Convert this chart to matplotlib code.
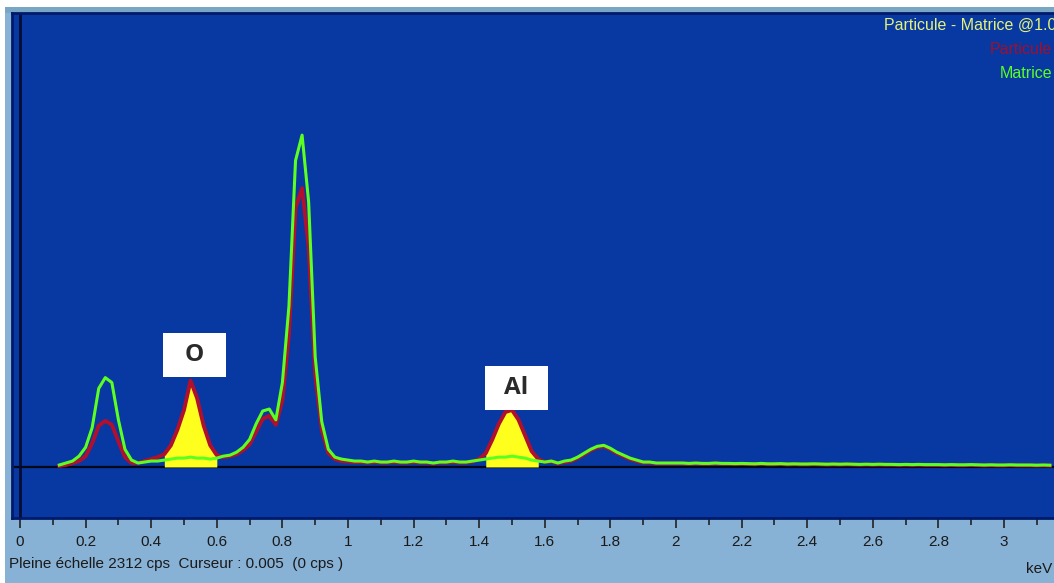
import numpy as np
import matplotlib
matplotlib.use("Agg")
import matplotlib.pyplot as plt
from matplotlib.patches import Rectangle

# ---------------- data ----------------
e_start = 0.12   # keV, first channel
e_step = 0.02    # keV per channel

matrice = [
    10, 20, 30, 55, 100, 200, 400, 455, 430, 240, 90, 35, 20, 25, 30, 30, 35, 40, 45, 45,
    50, 45, 45, 40, 45, 55, 60, 75, 100, 140, 220, 285, 295, 240, 430, 820, 1560, 1690, 1350, 560,
    230, 90, 50, 40,
    35, 30, 30, 25, 30, 25, 25, 30, 25, 25, 30, 25, 25, 20, 25, 25, 30, 25, 25, 30,
    35, 40, 45, 50, 50, 55, 50, 45, 35, 30, 25, 30, 20, 30, 35, 50, 70, 90, 105, 110,
    95, 75, 60, 45, 35, 25, 25, 20, 20, 20,
    20, 20, 18, 20, 18, 18, 20, 18, 18, 17, 18, 17, 16, 18, 16, 16, 17, 15, 16, 15,
    15, 16, 15, 14, 15, 14, 15, 14, 13, 14, 13, 14, 13, 13, 12, 13, 12, 13, 12, 12,
    12, 11, 12, 11, 11, 12, 11, 10, 11, 10, 10, 11, 10, 10, 10, 9, 10, 9,
]

particule = [
    5, 10, 20, 30, 55, 120, 210, 235, 215, 130, 50, 20, 20, 30, 40, 50, 65, 110, 190, 290,
    440, 350, 210, 110, 60, 50, 55, 65, 85, 115, 180, 245, 260, 215, 340, 680, 1320, 1420, 1120, 470,
    190, 70, 40, 30,
    28, 25, 25, 22, 25, 22, 22, 25, 22, 22, 25, 22, 22, 18, 22, 22, 25, 22, 22, 28,
    40, 70, 140, 220, 280, 290, 240, 160, 80, 40, 25, 28, 18, 25, 30, 45, 65, 85, 100, 105,
    90, 70, 55, 40, 30, 22, 22, 18, 18, 18,
    18, 18, 16, 18, 16, 16, 18, 16, 16, 15, 16, 15, 14, 16, 14, 14, 15, 13, 14, 13,
    13, 14, 13, 12, 13, 12, 13, 12, 11, 12, 11, 12, 11, 11, 10, 11, 10, 11, 10, 10,
    10, 9, 10, 9, 9, 10, 9, 8, 9, 8, 8, 9, 8, 8, 8, 7, 8, 7,
]

roi_windows = [(0.44, 0.60), (1.42, 1.58)]       # keV, yellow (Particule - Matrice) regions
peak_labels = ["O", "Al"]
peak_label_energy = [0.532, 1.514]
peak_label_cps = [570, 400]

tick_values = [0, 0.2, 0.4, 0.6, 0.8, 1, 1.2, 1.4, 1.6, 1.8, 2, 2.2, 2.4, 2.6, 2.8, 3]
tick_labels = ["0", "0.2", "0.4", "0.6", "0.8", "1", "1.2", "1.4", "1.6", "1.8",
               "2", "2.2", "2.4", "2.6", "2.8", "3"]
full_scale = 2312

# ---------------- figure ----------------
W, H = 1054, 583
PX_PER_KEV = 328.0
X0_PX = 20.0
fig = plt.figure(figsize=(W / 100, H / 100), dpi=100)
fig.patch.set_facecolor("white")

# light blue window frame
fig.add_artist(Rectangle((5 / W, 0), 1 - 5 / W, 1 - 7 / H, transform=fig.transFigure,
                         facecolor="#87b1d5", edgecolor="none", zorder=0))
fig.add_artist(Rectangle((5 / W, 1 - 13 / H), 1 - 5 / W, 6 / H, transform=fig.transFigure,
                         facecolor="#7aa6c6", edgecolor="none", zorder=0))

ax_h_px = 518 - 13
ax = fig.add_axes([12 / W, 65 / H, 1 - 12 / W, ax_h_px / H])
ax.set_facecolor("#0838a2")

ymin = -260
ax.set_xlim((12 - X0_PX) / PX_PER_KEV, (W - X0_PX) / PX_PER_KEV)
ax.set_ylim(ymin, full_scale)
cps_per_px = (full_scale - ymin) / ax_h_px

energy = e_start + e_step * np.arange(len(matrice))
mat = np.array(matrice, dtype=float)
par = np.array(particule, dtype=float)

# baseline and zero-energy line
ax.axhline(0, color="#000818", lw=1.6, zorder=2)
ax.axvline(0, color="#000c30", lw=2.0, zorder=2)

for lo, hi in roi_windows:
    mask = (energy >= lo - 1e-9) & (energy <= hi + 1e-9)
    ax.fill_between(energy[mask], 0, par[mask], color="#ffff1e", linewidth=0, zorder=3)

ax.plot(energy, par, color="#b0102e", lw=2.8, zorder=4)
ax.plot(energy, mat, color="#5cff22", lw=2.2, zorder=5)

# element labels in white boxes (63 x 44 px)
bw = 63 / PX_PER_KEV
bh = 44 * cps_per_px
for lab, ex, ey in zip(peak_labels, peak_label_energy, peak_label_cps):
    ax.add_patch(Rectangle((ex - bw / 2, ey - bh / 2), bw, bh, facecolor="white",
                           edgecolor="none", zorder=6))
    ax.text(ex, ey, lab, ha="center", va="center", fontsize=17.5, fontweight="bold",
            family="Open Sans", color="#2a2a2a", zorder=7)

ax.set_yticks([])
ax.set_xticks(tick_values)
ax.set_xticklabels(tick_labels, fontsize=11, family="Liberation Sans", color="#1a1a1a")
ax.set_xticks(np.round(np.arange(0, 3.15, 0.1), 2), minor=True)
ax.tick_params(axis="x", which="major", direction="out", length=7, width=1.2,
               color="#222222", pad=5)
ax.tick_params(axis="x", which="minor", direction="out", length=5, width=1.2,
               color="#222222")

for side in ["top", "left", "bottom"]:
    ax.spines[side].set_color("#001a6a")
    ax.spines[side].set_linewidth(2)
ax.spines["right"].set_visible(False)

# legend texts (top-right)
fig.text(1056 / W, 1 - 25 / H, "Particule - Matrice @1.0", ha="right", va="center",
         fontsize=11.5, family="Liberation Sans", color="#e4f27a")
fig.text(1052 / W, 1 - 50 / H, "Particule", ha="right", va="center",
         fontsize=11.5, family="Liberation Sans", color="#a0102c")
fig.text(1052 / W, 1 - 74 / H, "Matrice", ha="right", va="center",
         fontsize=11.5, family="Liberation Sans", color="#5cff22")

# status bar texts
fig.text(9 / W, 1 - 564 / H, "Pleine échelle 2312 cps  Curseur : 0.005  (0 cps )",
         ha="left", va="center", fontsize=11, family="Liberation Sans", color="#1a1a1a")
fig.text(1052 / W, 1 - 569 / H, "keV", ha="right", va="center",
         fontsize=11, family="Liberation Sans", color="#1a1a1a")

fig.savefig("out.png", dpi=100)
